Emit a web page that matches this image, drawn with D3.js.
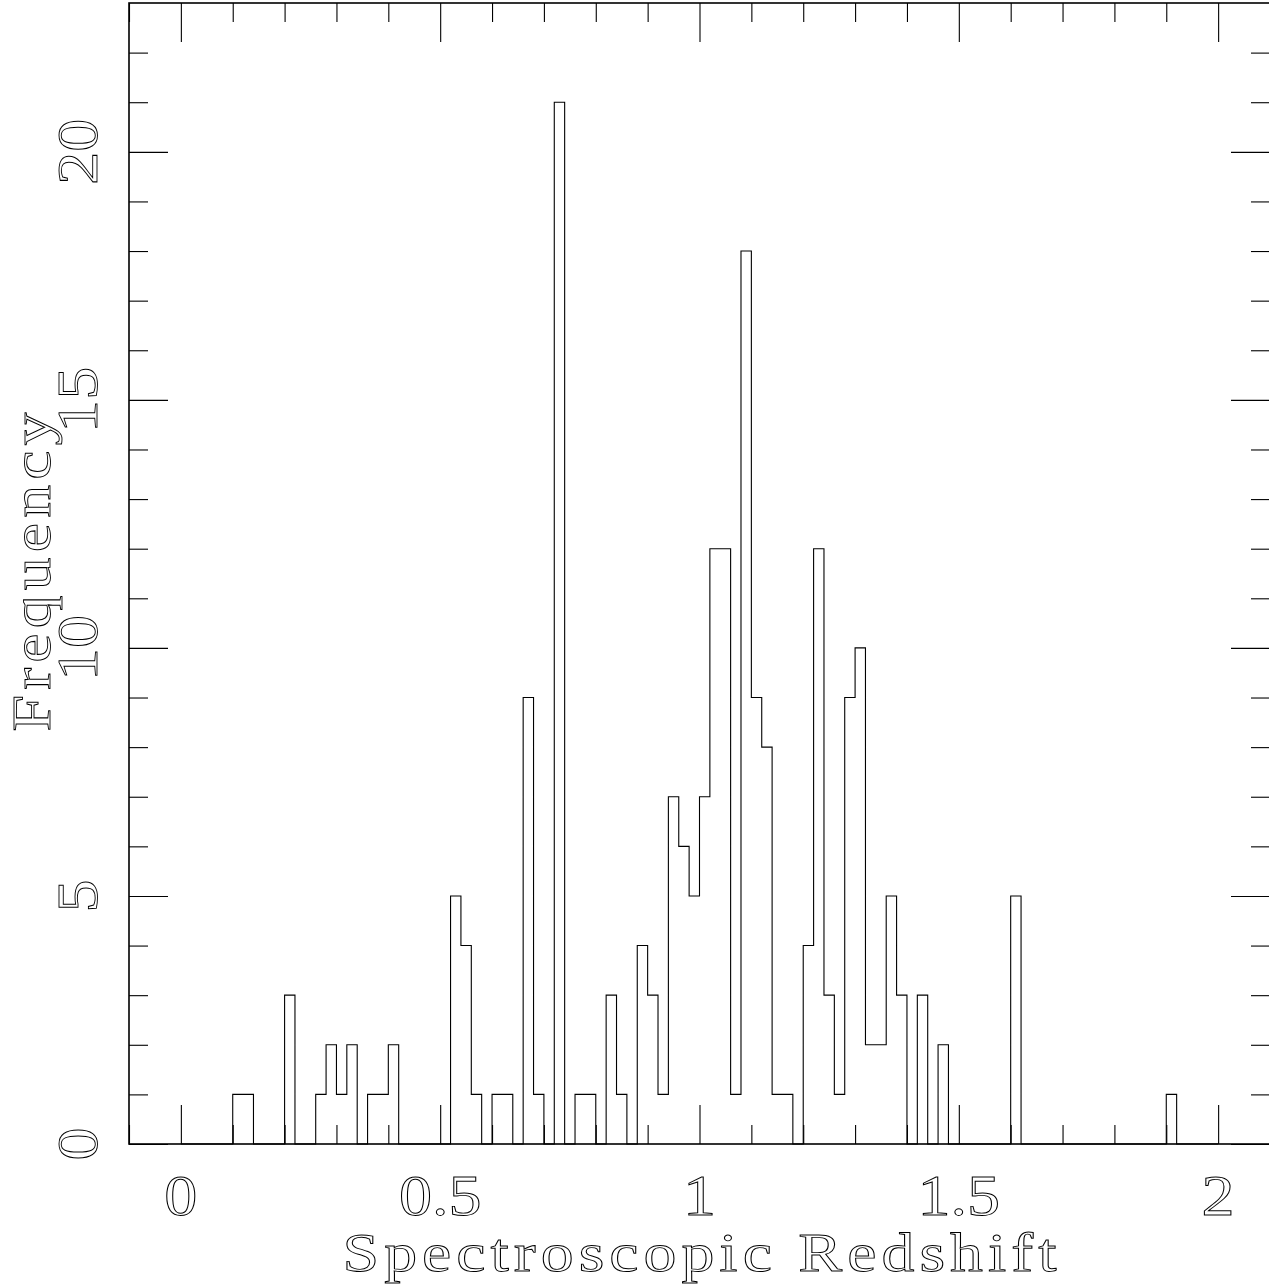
<!DOCTYPE html>
<html>
<head>
<meta charset="utf-8">
<script src="https://cdn.jsdelivr.net/npm/d3@7"></script>
<style>
    body { margin: 0; background: #ffffff; }
    .lbl { font-family: "Liberation Serif", serif; fill: #ffffff; stroke: #000000; stroke-width: 0.9px; }
</style>
</head>
<body>
<div id="viz_div"></div>
<script>
// DATA
// ---------------------------------------------------------------------------------------------------------------------------------
const binWidth = 0.02;
const binStart = [0.10, 0.12, 0.20, 0.26, 0.28, 0.30, 0.32, 0.36, 0.38, 0.40,
                  0.52, 0.54, 0.56, 0.60, 0.62, 0.66, 0.68, 0.72, 0.76, 0.78,
                  0.82, 0.84, 0.88, 0.90, 0.92, 0.94, 0.96, 0.98, 1.00, 1.02,
                  1.04, 1.06, 1.08, 1.10, 1.12, 1.14, 1.16, 1.20, 1.22, 1.24,
                  1.26, 1.28, 1.30, 1.32, 1.34, 1.36, 1.38, 1.42, 1.46, 1.60, 1.90];
const binCount = [1, 1, 3, 1, 2, 1, 2, 1, 1, 2,
                  5, 4, 1, 1, 1, 9, 1, 21, 1, 1,
                  3, 1, 4, 3, 1, 7, 6, 5, 7, 12,
                  12, 1, 18, 9, 8, 1, 1, 4, 12, 3,
                  1, 9, 10, 2, 2, 5, 3, 3, 2, 5, 1];
const histRange = [0, 2];

const xTicks = [0, 0.5, 1, 1.5, 2];
const xTickLabels = ["0", "0.5", "1", "1.5", "2"];
const yTicks = [0, 5, 10, 15, 20];
const yTickLabels = ["0", "5", "10", "15", "20"];
const xTitle = "Spectroscopic Redshift";
const yTitle = "Frequency";

// SCALES
// ---------------------------------------------------------------------------------------------------------------------------------
const W = 1269, H = 1287;
const frame = { left: 129, right: 1270, top: 3, bottom: 1144 };

const x = d3.scaleLinear([-0.1, 2.1], [frame.left, frame.right]);
const y = d3.scaleLinear([0, 23], [frame.bottom, frame.top]);

const svg = d3.select("#viz_div")
    .append("svg")
    .attr("width", W)
    .attr("height", H);

// HISTOGRAM OUTLINE
// ---------------------------------------------------------------------------------------------------------------------------------
var nBins = Math.round((histRange[1] - histRange[0]) / binWidth);
var steps = [];
for (var i = 0; i < nBins; i++) {
    var x0 = histRange[0] + i * binWidth;
    var k = binStart.findIndex(function (b) { return Math.abs(b - x0) < 1e-6; });
    steps.push([x0, k >= 0 ? binCount[k] : 0]);
}
steps.push([histRange[1], 0]);

svg.append("path")
    .datum(steps)
    .attr("fill", "none")
    .attr("stroke", "#000")
    .attr("stroke-width", 1.1)
    .attr("d", d3.line()
        .x(function (d) { return x(d[0]); })
        .y(function (d) { return y(d[1]); })
        .curve(d3.curveStepAfter)
    );

// TICKS ON ALL FOUR SIDES (pointing inwards)
// ---------------------------------------------------------------------------------------------------------------------------------
var xMinor = d3.range(-1, 22).map(function (i) { return i / 10; })
    .filter(function (v) { return xTicks.indexOf(v) < 0; });
var yMinor = d3.range(1, 23).filter(function (v) { return yTicks.indexOf(v) < 0; });

function addTicks(axis, values, size, tx, ty) {
    var g = svg.append("g")
        .attr("transform", `translate(${tx},${ty})`)
        .call(axis.tickValues(values).tickSize(-size).tickFormat(""));
    g.select(".domain").remove();
    g.selectAll("line").attr("stroke", "#000").attr("stroke-width", 1.1);
}

addTicks(d3.axisBottom(x), xTicks, 39, 0, frame.bottom);
addTicks(d3.axisBottom(x), xMinor, 19, 0, frame.bottom);
addTicks(d3.axisTop(x), xTicks, 39, 0, frame.top);
addTicks(d3.axisTop(x), xMinor, 19, 0, frame.top);
addTicks(d3.axisLeft(y), yTicks, 39, frame.left, 0);
addTicks(d3.axisLeft(y), yMinor, 19, frame.left, 0);
addTicks(d3.axisRight(y), yTicks, 39, frame.right, 0);
addTicks(d3.axisRight(y), yMinor, 19, frame.right, 0);

// FRAME
// ---------------------------------------------------------------------------------------------------------------------------------
svg.append("rect")
    .attr("x", frame.left)
    .attr("y", frame.top)
    .attr("width", frame.right - frame.left)
    .attr("height", frame.bottom - frame.top)
    .attr("fill", "none")
    .attr("stroke", "#000")
    .attr("stroke-width", 1.6);

// TICK LABELS (slightly widened to match the wide plotter lettering)
// ---------------------------------------------------------------------------------------------------------------------------------
svg.selectAll("xlabels")
    .data(xTicks)
    .enter()
    .append("text")
    .attr("class", "lbl")
    .attr("transform", function (d) { return `translate(${x(d)},1215) scale(1.18,1)`; })
    .attr("text-anchor", "middle")
    .style("font-size", "56px")
    .text(function (d, i) { return xTickLabels[i]; });

svg.selectAll("ylabels")
    .data(yTicks)
    .enter()
    .append("text")
    .attr("class", "lbl")
    .attr("transform", function (d) { return `translate(97,${y(d)}) rotate(-90) scale(1.18,1)`; })
    .attr("text-anchor", "middle")
    .style("font-size", "56px")
    .text(function (d, i) { return yTickLabels[i]; });

// AXIS TITLES
// ---------------------------------------------------------------------------------------------------------------------------------
const widen = 1.22;

svg.append("text")
    .attr("class", "lbl")
    .attr("transform", `translate(${x(1)},1271) scale(${widen},1)`)
    .attr("text-anchor", "middle")
    .attr("textLength", 714 / widen)
    .attr("lengthAdjust", "spacing")
    .style("font-size", "54px")
    .text(xTitle);

svg.append("text")
    .attr("class", "lbl")
    .attr("transform", `translate(50,572) rotate(-90) scale(${widen},1)`)
    .attr("text-anchor", "middle")
    .attr("textLength", 319 / widen)
    .attr("lengthAdjust", "spacing")
    .style("font-size", "54px")
    .text(yTitle);
</script>
</body>
</html>
